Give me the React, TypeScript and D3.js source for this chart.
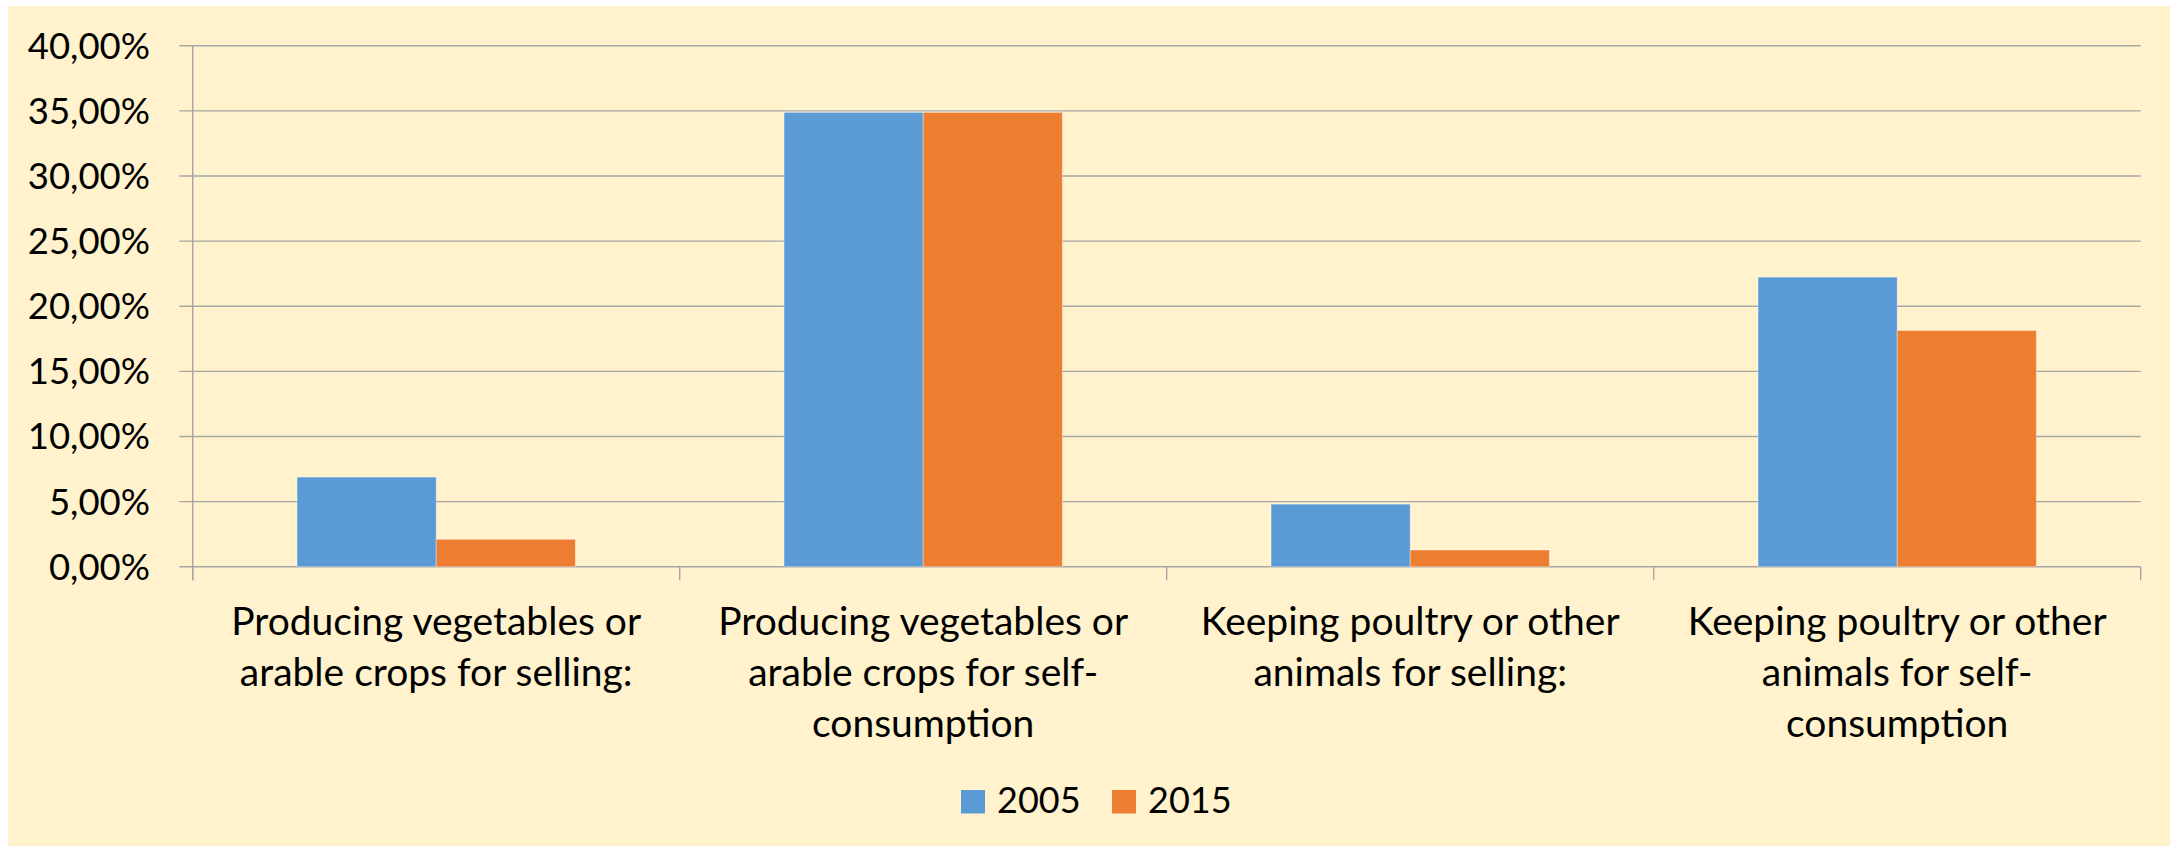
import React from "react";
import * as d3 from "d3";

const categories = [
  "Producing vegetables or\narable crops for selling:",
  "Producing vegetables or\narable crops for self-\nconsumption",
  "Keeping poultry or other\nanimals for selling:",
  "Keeping poultry or other\nanimals for self-\nconsumption",
];
const seriesNames = ["2005", "2015"];
const values2005 = [6.88, 34.88, 4.8, 22.23];
const values2015 = [2.1, 34.88, 1.28, 18.13];
const yTicks = [0, 5, 10, 15, 20, 25, 30, 35, 40];
const colors = ["#5B9BD5", "#ED7D31"];

const W = 2177;
const H = 846;
const FONT = "Lato, 'Liberation Sans', sans-serif";

export default function App() {
  const left = 192.7;
  const right = 2140.7;
  const top = 45.7;
  const bottom = 566.7;

  const x = d3.scaleBand<string>().domain(categories).range([left, right]).paddingInner(0).paddingOuter(0);
  const xs = d3.scaleBand<string>().domain(seriesNames).range([0, x.bandwidth()]).paddingInner(0).paddingOuter(0.75);
  const y = d3.scaleLinear().domain([0, 40]).range([bottom, top]);
  const fmt = (v: number) => d3.format(".2f")(v).replace(".", ",") + "%";
  const seriesValues = [values2005, values2015];

  const boundaries = [...categories.map((c) => x(c) as number), right];

  return (
    <svg width={W} height={H} style={{ position: "absolute", left: 0, top: 0, display: "block" }} fontFamily={FONT}>
      <rect x={0} y={0} width={W} height={H} fill="#ffffff" />
      <rect x={8} y={6} width={2162} height={840} fill="#FFF2CC" />
      {yTicks.map((t) => (
        <g key={t}>
          <line x1={179.3} x2={right} y1={y(t)} y2={y(t)} stroke="#A6A6A6" strokeWidth={1.4} />
          <text x={150} y={y(t) + 13} textAnchor="end" fontSize={36.5} fill="#000">
            {fmt(t)}
          </text>
        </g>
      ))}
      <line x1={left} x2={left} y1={top} y2={bottom + 13.5} stroke="#A6A6A6" strokeWidth={1.4} />
      {boundaries.map((b, i) => (
        <line key={i} x1={b} x2={b} y1={bottom} y2={bottom + 13.5} stroke="#A6A6A6" strokeWidth={1.4} />
      ))}
      {categories.map((c, ci) =>
        seriesNames.map((s, si) => {
          const v = seriesValues[si][ci];
          const bx = (x(c) as number) + (xs(s) as number);
          return (
            <rect
              key={c + s}
              x={bx}
              y={y(v)}
              width={xs.bandwidth()}
              height={y(0) - y(v)}
              fill={colors[si]}
              stroke="#ffffff"
              strokeOpacity={0.35}
              strokeWidth={1}
            />
          );
        })
      )}
      {categories.map((c) => {
        const cx = (x(c) as number) + x.bandwidth() / 2;
        return (
          <text key={c} textAnchor="middle" fontSize={39} fill="#000">
            {c.split("\n").map((line, i) => (
              <tspan key={i} x={cx} y={635 + i * 51}>
                {line}
              </tspan>
            ))}
          </text>
        );
      })}
      {seriesNames.map((s, i) => {
        const lx = i === 0 ? 961 : 1112;
        return (
          <g key={s}>
            <rect x={lx} y={790} width={24} height={23.5} fill={colors[i]} />
            <text x={lx + 36} y={813.3} fontSize={36} fill="#000">
              {s}
            </text>
          </g>
        );
      })}
    </svg>
  );
}
